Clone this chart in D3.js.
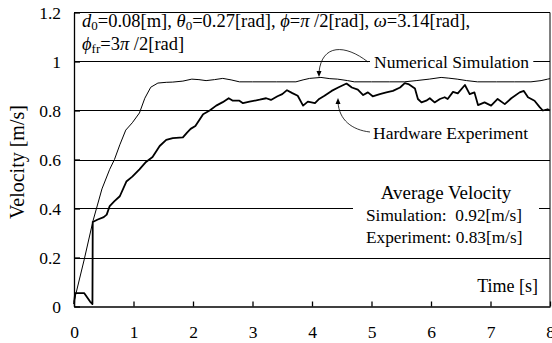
<!DOCTYPE html>
<html>
<head>
<meta charset="utf-8">
<script src="https://cdn.jsdelivr.net/npm/d3@7"></script>
<style>
  body { margin: 0; background: #fff; }
  svg text { font-family: "Liberation Serif", "Times New Roman", serif; fill: #000; }
</style>
</head>
<body>
<div id="chart"></div>
<script>
// numerical simulation (time [s], velocity [m/s])
const simT = [0, 0.17, 0.32, 0.47, 0.6, 0.68, 0.77, 0.87, 0.98, 1.1, 1.19, 1.29, 1.41, 1.55, 1.66, 1.83, 1.98, 2.1, 2.22, 2.36, 2.5, 2.64, 2.78, 3.0, 3.4, 3.73, 3.85, 3.96, 4.15, 4.3, 4.43, 4.6, 4.71, 5.0, 5.3, 5.55, 5.75, 5.97, 6.17, 6.3, 6.44, 6.6, 6.78, 7.1, 7.4, 7.68, 7.85, 7.96, 8.0];
const simV = [0.02, 0.19, 0.35, 0.48, 0.56, 0.6, 0.66, 0.72, 0.75, 0.79, 0.85, 0.895, 0.912, 0.915, 0.916, 0.92, 0.928, 0.926, 0.922, 0.926, 0.931, 0.925, 0.917, 0.917, 0.917, 0.917, 0.925, 0.931, 0.935, 0.93, 0.928, 0.922, 0.917, 0.917, 0.917, 0.917, 0.922, 0.928, 0.935, 0.932, 0.928, 0.922, 0.917, 0.917, 0.917, 0.917, 0.922, 0.928, 0.93];

// hardware experiment (time [s], velocity [m/s])
const expT = [0, 0.02, 0.17, 0.27, 0.31, 0.315, 0.4, 0.5, 0.55, 0.6, 0.68, 0.77, 0.88, 0.98, 1.1, 1.21, 1.32, 1.44, 1.55, 1.66, 1.83, 1.9, 1.96, 2.04, 2.17, 2.28, 2.39, 2.5, 2.6, 2.67, 2.78, 2.84, 2.95, 3.12, 3.23, 3.31, 3.42, 3.5, 3.58, 3.67, 3.76, 3.85, 3.93, 4.05, 4.12, 4.21, 4.33, 4.44, 4.58, 4.67, 4.77, 4.86, 4.94, 5.02, 5.14, 5.25, 5.36, 5.48, 5.56, 5.62, 5.73, 5.78, 5.84, 5.92, 5.98, 6.06, 6.15, 6.23, 6.28, 6.37, 6.45, 6.57, 6.65, 6.73, 6.79, 6.9, 7.01, 7.12, 7.24, 7.35, 7.49, 7.56, 7.63, 7.74, 7.83, 7.88, 7.96, 8.0];
const expV = [0.01, 0.055, 0.055, 0.02, 0.01, 0.345, 0.355, 0.365, 0.375, 0.41, 0.43, 0.45, 0.51, 0.53, 0.56, 0.59, 0.61, 0.655, 0.68, 0.687, 0.69, 0.71, 0.725, 0.737, 0.785, 0.8, 0.82, 0.834, 0.85, 0.84, 0.84, 0.83, 0.836, 0.844, 0.85, 0.843, 0.858, 0.867, 0.883, 0.871, 0.86, 0.82, 0.836, 0.83, 0.847, 0.86, 0.88, 0.894, 0.91, 0.894, 0.885, 0.863, 0.874, 0.858, 0.867, 0.874, 0.88, 0.894, 0.912, 0.908, 0.89, 0.847, 0.833, 0.84, 0.85, 0.833, 0.847, 0.854, 0.847, 0.876, 0.87, 0.904, 0.867, 0.874, 0.822, 0.833, 0.82, 0.847, 0.826, 0.85, 0.874, 0.88, 0.854, 0.84, 0.813, 0.8, 0.805, 0.80];

const xTicks = [0, 1, 2, 3, 4, 5, 6, 7, 8];
const yTicks = [0, 0.2, 0.4, 0.6, 0.8, 1.0, 1.2];
const yTickLabels = ['0', '0.2', '0.4', '0.6', '0.8', '1', '1.2'];
const avgLines = ['Simulation:  0.92[m/s]', 'Experiment: 0.83[m/s]'];

const width = 552, height = 343;
const x = d3.scaleLinear().domain([0, 8]).range([74, 550]);
const y = d3.scaleLinear().domain([0, 1.2]).range([306.5, 12.5]);
const serif = '"Liberation Serif", "Times New Roman", serif';

const svg = d3.select('#chart').append('svg')
	.attr('width', width)
	.attr('height', height)
	.style('display', 'block')

// gridlines
svg.append('g')
	.selectAll('line')
	.data(yTicks.filter(d => d > 0 && d < 1.2))
	.join('line')
	.attr('x1', x(0)).attr('x2', x(8))
	.attr('y1', d => Math.round(y(d)) + 0.5).attr('y2', d => Math.round(y(d)) + 0.5)
	.attr('stroke', '#000')
	.attr('stroke-width', 1)

// axes (ticks point inwards)
svg.append('g')
	.attr('transform', `translate(${x(0)},0)`)
	.call(d3.axisLeft(y).tickValues(yTicks).tickSizeInner(-6).tickSizeOuter(0).tickFormat((d, i) => yTickLabels[i]).tickPadding(13))
svg.append('g')
	.attr('transform', `translate(0,${y(0)})`)
	.call(d3.axisBottom(x).tickValues(xTicks).tickSizeInner(-5).tickSizeOuter(0).tickFormat(d3.format('d')).tickPadding(19))
svg.selectAll('.domain').attr('stroke', '#000').attr('stroke-width', 1.3)
svg.selectAll('.tick line').attr('stroke', '#000').attr('stroke-width', 1.3)
svg.selectAll('.tick text').style('font-size', '17.5px').style('font-family', serif)

// top and right frame
svg.append('path')
	.attr('d', `M${x(0)},${y(1.2)}H${x(8)}V${y(0)}`)
	.attr('fill', 'none')
	.attr('stroke', '#000')
	.attr('stroke-width', 1)

// series
const line = d3.line().x(d => x(d[0])).y(d => y(d[1]))
svg.append('path')
	.datum(simT.map((t, i) => [t, simV[i]]))
	.attr('d', line)
	.attr('fill', 'none')
	.attr('stroke', '#000')
	.attr('stroke-width', 1)
svg.append('path')
	.datum(expT.map((t, i) => [t, expV[i]]))
	.attr('d', line)
	.attr('fill', 'none')
	.attr('stroke', '#000')
	.attr('stroke-width', 1.8)
	.attr('stroke-linejoin', 'round')

// axis titles
svg.append('text')
	.attr('transform', 'translate(24,162) rotate(-90)')
	.attr('text-anchor', 'middle')
	.style('font-size', '20px')
	.text('Velocity [m/s]')
svg.append('text')
	.attr('x', 538).attr('y', 292)
	.attr('text-anchor', 'end')
	.style('font-size', '18px')
	.text('Time [s]')

// parameters
function add_tspans(sel, parts) {
	parts.forEach(p => {
		const t = sel.append('tspan').text(p[0])
		if (p[1] == 'i') t.style('font-style', 'italic')
		if (p[1] == 's') t.attr('baseline-shift', '-25%').style('font-size', '13px')
	})
}
const par1 = svg.append('text').attr('x', 82).attr('y', 27).style('font-size', '18.5px')
add_tspans(par1, [['d', 'i'], ['0', 's'], ['=0.08[m], '], ['θ', 'i'], ['0', 's'], ['=0.27[rad], '],
	['ϕ', 'i'], ['='], ['π', 'i'], [' /2[rad], '], ['ω', 'i'], ['=3.14[rad],']])
const par2 = svg.append('text').attr('x', 82).attr('y', 50).style('font-size', '18.5px')
add_tspans(par2, [['ϕ', 'i'], ['fr', 's'], ['=3'], ['π', 'i'], [' /2[rad]']])

// labels with arrows
function add_label(txt, tx, ty, path) {
	const g = svg.append('g')
	const r = g.append('rect').attr('fill', '#fff')
	const t = g.append('text').attr('x', tx).attr('y', ty).style('font-size', '17.5px').text(txt)
	const bb = t.node().getBBox()
	r.attr('x', bb.x - 4).attr('y', bb.y).attr('width', bb.width + 8).attr('height', bb.height)
	g.append('path').attr('d', path).attr('fill', 'none').attr('stroke', '#000').attr('stroke-width', 0.8)
}
add_label('Numerical Simulation', 374, 68, 'M368,62 C345,44 322,44 319,72')
add_label('Hardware Experiment', 373, 139, 'M370,132 C352,130 339,120 338,102')
// arrow heads
svg.append('path').attr('d', 'M316.5,71 L319,77 L321.5,71 Z').attr('fill', '#000')
svg.append('path').attr('d', 'M335.5,104 L338,98 L340.5,104 Z').attr('fill', '#000')

// average velocity box
const avg = svg.append('g')
avg.append('rect').attr('x', 353).attr('y', 183).attr('width', 186).attr('height', 65).attr('fill', '#fff')
avg.append('text').attr('x', 446).attr('y', 199).attr('text-anchor', 'middle').style('font-size', '19px').text('Average Velocity')
avg.selectAll('text.line')
	.data(avgLines)
	.join('text')
	.attr('class', 'line')
	.attr('x', 366)
	.attr('y', (d, i) => 221 + i * 22)
	.style('font-size', '17.3px')
	.style('white-space', 'pre')
	.text(d => d)
</script>
</body>
</html>
